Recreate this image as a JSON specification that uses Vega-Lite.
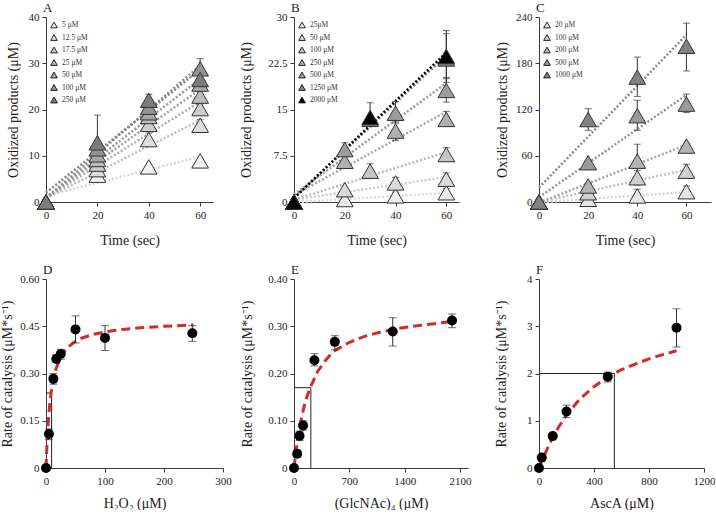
{
  "$schema": "https://vega.github.io/schema/vega-lite/v6.json",
  "padding": {"left": 0, "top": 2, "right": 0, "bottom": 0},
  "background": "white",
  "config": {
    "view": {"stroke": null},
    "font": "Liberation Serif",
    "axis": {"grid": false, "domainColor": "#3a3a3a", "tickColor": "#3a3a3a", "tickSize": 4, "labelFont": "Liberation Serif", "labelFontSize": 11, "labelColor": "#222", "titleFont": "Liberation Serif", "titleFontSize": 14, "titleFontWeight": "normal", "titleColor": "#222", "labelFlush": false, "labelPadding": 3},
    "axisX": {"titlePadding": 13},
    "axisY": {"titlePadding": 10},
    "legend": {"orient": "top-left", "offset": 4, "symbolType": "triangle-up", "symbolSize": 45, "symbolStrokeColor": "#222", "symbolStrokeWidth": 1, "labelFont": "Liberation Serif", "labelFontSize": 7.5, "labelColor": "#333", "rowPadding": 2.5, "padding": 0},
    "title": {"anchor": "start", "frame": "group", "font": "Liberation Serif", "fontSize": 13, "fontWeight": "normal", "offset": -4, "dx": -3, "color": "#222"}
  },
  "datasets": {
    "A": [
      {"s": "5 μM", "t": 0, "y": 0}, {"s": "5 μM", "t": 20, "y": 5.8}, {"s": "5 μM", "t": 40, "y": 7.6}, {"s": "5 μM", "t": 60, "y": 8.9},
      {"s": "12.5 μM", "t": 0, "y": 0}, {"s": "12.5 μM", "t": 20, "y": 7.0}, {"s": "12.5 μM", "t": 40, "y": 13.5, "lo": 12.2, "hi": 14.9}, {"s": "12.5 μM", "t": 60, "y": 16.6, "lo": 15.4, "hi": 17.8},
      {"s": "17.5 μM", "t": 0, "y": 0}, {"s": "17.5 μM", "t": 20, "y": 8.2}, {"s": "17.5 μM", "t": 40, "y": 16.8}, {"s": "17.5 μM", "t": 60, "y": 20.2, "lo": 19.2, "hi": 21.2},
      {"s": "25 μM", "t": 0, "y": 0}, {"s": "25 μM", "t": 20, "y": 9.2}, {"s": "25 μM", "t": 40, "y": 18.5}, {"s": "25 μM", "t": 60, "y": 22.9},
      {"s": "50 μM", "t": 0, "y": 0}, {"s": "50 μM", "t": 20, "y": 10.2}, {"s": "50 μM", "t": 40, "y": 19.3}, {"s": "50 μM", "t": 60, "y": 25.5, "lo": 24.5, "hi": 26.5},
      {"s": "100 μM", "t": 0, "y": 0}, {"s": "100 μM", "t": 20, "y": 11.5}, {"s": "100 μM", "t": 40, "y": 20.5}, {"s": "100 μM", "t": 60, "y": 28.8, "lo": 27.5, "hi": 31.0},
      {"s": "250 μM", "t": 0, "y": 0}, {"s": "250 μM", "t": 20, "y": 12.8, "lo": 6.8, "hi": 18.8}, {"s": "250 μM", "t": 40, "y": 22.0, "lo": 20.7, "hi": 23.3}, {"s": "250 μM", "t": 60, "y": 26.5, "lo": 25.0, "hi": 28.0}
    ],
    "B": [
      {"s": "25μM", "t": 0, "y": 0}, {"s": "25μM", "t": 20, "y": 0.4}, {"s": "25μM", "t": 40, "y": 1.0, "lo": 0.4, "hi": 1.6}, {"s": "25μM", "t": 60, "y": 1.5, "lo": 0.8, "hi": 2.2},
      {"s": "50 μM", "t": 0, "y": 0}, {"s": "50 μM", "t": 20, "y": 2.0}, {"s": "50 μM", "t": 40, "y": 3.1, "lo": 2.2, "hi": 4.0}, {"s": "50 μM", "t": 60, "y": 3.7, "lo": 2.7, "hi": 4.7},
      {"s": "100 μM", "t": 0, "y": 0}, {"s": "100 μM", "t": 30, "y": 5.0, "lo": 3.8, "hi": 6.2}, {"s": "100 μM", "t": 60, "y": 7.7, "lo": 7.0, "hi": 8.8},
      {"s": "250 μM", "t": 0, "y": 0}, {"s": "250 μM", "t": 20, "y": 6.6}, {"s": "250 μM", "t": 40, "y": 11.5, "lo": 10.0, "hi": 13.0}, {"s": "250 μM", "t": 60, "y": 13.4, "lo": 12.3, "hi": 14.7},
      {"s": "500 μM", "t": 0, "y": 0}, {"s": "500 μM", "t": 20, "y": 8.5, "lo": 7.6, "hi": 9.6}, {"s": "500 μM", "t": 40, "y": 14.4, "lo": 12.8, "hi": 16.3}, {"s": "500 μM", "t": 60, "y": 18.1, "lo": 16.2, "hi": 20.0},
      {"s": "1250 μM", "t": 0, "y": 0}, {"s": "1250 μM", "t": 30, "y": 13.4}, {"s": "1250 μM", "t": 60, "y": 23.2, "lo": 19.4, "hi": 27.3},
      {"s": "2000 μM", "t": 0, "y": 0}, {"s": "2000 μM", "t": 30, "y": 13.7, "lo": 12.3, "hi": 16.1}, {"s": "2000 μM", "t": 60, "y": 23.6, "lo": 20.2, "hi": 27.8}
    ],
    "C": [
      {"s": "20 μM", "t": 0, "y": 0}, {"s": "20 μM", "t": 20, "y": 3.5}, {"s": "20 μM", "t": 40, "y": 7.8, "lo": 0, "hi": 16.5}, {"s": "20 μM", "t": 60, "y": 13.4, "lo": 6, "hi": 20.8},
      {"s": "100 μM", "t": 0, "y": 0}, {"s": "100 μM", "t": 20, "y": 12, "lo": 10.5, "hi": 14}, {"s": "100 μM", "t": 40, "y": 31.5, "lo": 22, "hi": 41}, {"s": "100 μM", "t": 60, "y": 40, "lo": 31, "hi": 49},
      {"s": "200 μM", "t": 0, "y": 0}, {"s": "200 μM", "t": 20, "y": 20.8, "lo": 18, "hi": 24}, {"s": "200 μM", "t": 40, "y": 53, "lo": 31, "hi": 75}, {"s": "200 μM", "t": 60, "y": 72.6, "lo": 70, "hi": 76},
      {"s": "500 μM", "t": 0, "y": 0}, {"s": "500 μM", "t": 20, "y": 51, "lo": 48, "hi": 54}, {"s": "500 μM", "t": 40, "y": 112, "lo": 93, "hi": 132}, {"s": "500 μM", "t": 60, "y": 127, "lo": 116, "hi": 140},
      {"s": "1000 μM", "t": 0, "y": 0}, {"s": "1000 μM", "t": 20, "y": 107, "lo": 93, "hi": 121}, {"s": "1000 μM", "t": 40, "y": 162, "lo": 137, "hi": 188}, {"s": "1000 μM", "t": 60, "y": 202, "lo": 170, "hi": 232}
    ],
    "D": [
      {"x": 0, "y": 0}, {"x": 5, "y": 0.108, "lo": 0.09, "hi": 0.124}, {"x": 12.5, "y": 0.283, "lo": 0.266, "hi": 0.3}, {"x": 17.5, "y": 0.346, "lo": 0.335, "hi": 0.36}, {"x": 25, "y": 0.362, "lo": 0.345, "hi": 0.377}, {"x": 50, "y": 0.44, "lo": 0.397, "hi": 0.483}, {"x": 100, "y": 0.413, "lo": 0.373, "hi": 0.452}, {"x": 248, "y": 0.428, "lo": 0.402, "hi": 0.452}
    ],
    "Dfit": [
      {"x": 0, "y": 0}, {"x": 2, "y": 0.09}, {"x": 4, "y": 0.15}, {"x": 6, "y": 0.195}, {"x": 8.5, "y": 0.237}, {"x": 12, "y": 0.275}, {"x": 16, "y": 0.31}, {"x": 20, "y": 0.33}, {"x": 25, "y": 0.352}, {"x": 30, "y": 0.368}, {"x": 40, "y": 0.388}, {"x": 50, "y": 0.402}, {"x": 60, "y": 0.412}, {"x": 80, "y": 0.424}, {"x": 100, "y": 0.432}, {"x": 130, "y": 0.44}, {"x": 160, "y": 0.445}, {"x": 200, "y": 0.45}, {"x": 250, "y": 0.454}
    ],
    "Dkm": [{"x": 0, "y": 0.238, "o": 1}, {"x": 9.5, "y": 0.238, "o": 2}, {"x": 9.5, "y": 0, "o": 3}],
    "E": [
      {"x": 0, "y": 0}, {"x": 40, "y": 0.03, "lo": 0.022, "hi": 0.038}, {"x": 70, "y": 0.068, "lo": 0.058, "hi": 0.078}, {"x": 115, "y": 0.09, "lo": 0.08, "hi": 0.1}, {"x": 258, "y": 0.228, "lo": 0.216, "hi": 0.242}, {"x": 516, "y": 0.267, "lo": 0.25, "hi": 0.28}, {"x": 1248, "y": 0.289, "lo": 0.258, "hi": 0.318}, {"x": 1998, "y": 0.312, "lo": 0.297, "hi": 0.326}
    ],
    "Efit": [
      {"x": 0, "y": 0}, {"x": 25, "y": 0.035}, {"x": 50, "y": 0.066}, {"x": 100, "y": 0.11}, {"x": 150, "y": 0.145}, {"x": 210, "y": 0.172}, {"x": 300, "y": 0.205}, {"x": 400, "y": 0.228}, {"x": 500, "y": 0.247}, {"x": 700, "y": 0.266}, {"x": 900, "y": 0.279}, {"x": 1100, "y": 0.288}, {"x": 1300, "y": 0.295}, {"x": 1500, "y": 0.3}, {"x": 1750, "y": 0.305}, {"x": 2000, "y": 0.31}
    ],
    "Ekm": [{"x": 0, "y": 0.17, "o": 1}, {"x": 213, "y": 0.17, "o": 2}, {"x": 213, "y": 0, "o": 3}],
    "F": [
      {"x": 0, "y": 0}, {"x": 20, "y": 0.22, "lo": 0.2, "hi": 0.24}, {"x": 100, "y": 0.675, "lo": 0.64, "hi": 0.71}, {"x": 200, "y": 1.195, "lo": 1.07, "hi": 1.33}, {"x": 500, "y": 1.93, "lo": 1.82, "hi": 2.03}, {"x": 1000, "y": 2.97, "lo": 2.56, "hi": 3.37}
    ],
    "Ffit": [
      {"x": 0, "y": 0}, {"x": 50, "y": 0.34}, {"x": 100, "y": 0.65}, {"x": 150, "y": 0.9}, {"x": 200, "y": 1.12}, {"x": 300, "y": 1.47}, {"x": 400, "y": 1.72}, {"x": 500, "y": 1.93}, {"x": 600, "y": 2.08}, {"x": 700, "y": 2.2}, {"x": 800, "y": 2.31}, {"x": 900, "y": 2.4}, {"x": 1000, "y": 2.48}
    ],
    "Fkm": [{"x": 0, "y": 2.0, "o": 1}, {"x": 548, "y": 2.0, "o": 2}, {"x": 548, "y": 0, "o": 3}]
  },
  "columns": 3,
  "spacing": {"row": 77, "column": 71},
  "bounds": "flush",
  "resolve": {"scale": {"fill": "independent", "stroke": "independent", "x": "independent", "y": "independent"}, "legend": {"fill": "independent"}, "axis": {"x": "independent", "y": "independent"}},
  "concat": [
    {
      "title": "A", "width": 167, "height": 185, "data": {"name": "A"},
      "layer": [
        {"transform": [{"regression": "y", "on": "t", "groupby": ["s"], "extent": [0, 60]}],
         "mark": {"type": "line", "strokeDash": [2, 2], "strokeWidth": 2.5},
         "encoding": {
           "x": {"field": "t", "type": "quantitative", "title": "Time (sec)", "scale": {"domain": [0, 64]}, "axis": {"values": [0, 20, 40, 60]}},
           "y": {"field": "y", "type": "quantitative", "title": "Oxidized products (μM)", "scale": {"domain": [0, 40]}, "axis": {"values": [0, 10, 20, 30, 40], "titlePadding": 8}},
           "stroke": {"field": "s", "type": "nominal", "scale": {"domain": ["250 μM", "100 μM", "50 μM", "25 μM", "17.5 μM", "12.5 μM", "5 μM"], "range": ["#858585", "#8e8e8e", "#989898", "#a2a2a2", "#adadad", "#bdbdbd", "#d8d8d8"]}, "legend": null}}},
        {"transform": [{"filter": "isValid(datum.hi)"}],
         "mark": {"type": "errorbar", "ticks": true, "size": 7, "thickness": 1, "color": "#333"},
         "encoding": {"x": {"field": "t", "type": "quantitative", "title": "Time (sec)"}, "y": {"field": "lo", "type": "quantitative", "title": "Oxidized products (μM)"}, "y2": {"field": "hi"}}},
        {"mark": {"type": "point", "shape": "triangle-up", "filled": true, "size": 280, "stroke": "#333", "strokeWidth": 1, "opacity": 1},
         "encoding": {
           "x": {"field": "t", "type": "quantitative", "title": "Time (sec)"},
           "y": {"field": "y", "type": "quantitative", "title": "Oxidized products (μM)"},
           "fill": {"field": "s", "type": "nominal", "scale": {"domain": ["5 μM", "12.5 μM", "17.5 μM", "25 μM", "50 μM", "100 μM", "250 μM"], "range": ["#f2f2f2", "#dedede", "#cdcdcd", "#bcbcbc", "#a8a8a8", "#939393", "#7c7c7c"]}, "legend": {"title": null, "orient": "top-left"}}}}
      ]
    },
    {
      "title": "B", "width": 165, "height": 185, "data": {"name": "B"},
      "layer": [
        {"transform": [{"regression": "y", "on": "t", "groupby": ["s"], "extent": [0, 60]}],
         "mark": {"type": "line", "strokeDash": [2, 2], "strokeWidth": 2.5},
         "encoding": {
           "x": {"field": "t", "type": "quantitative", "title": "Time (sec)", "scale": {"domain": [0, 63.9]}, "axis": {"values": [0, 20, 40, 60]}},
           "y": {"field": "y", "type": "quantitative", "title": "Oxidized products (μM)", "scale": {"domain": [0, 30]}, "axis": {"values": [0, 7.5, 15, 22.5, 30], "labelExpr": "'' + datum.value", "titlePadding": 14}},
           "stroke": {"field": "s", "type": "nominal", "scale": {"domain": ["2000 μM", "1250 μM", "500 μM", "250 μM", "100 μM", "50 μM", "25μM"], "range": ["#000000", "#8a8a8a", "#9a9a9a", "#a6a6a6", "#bbbbbb", "#cccccc", "#dcdcdc"]}, "legend": null}}},
        {"transform": [{"filter": "isValid(datum.hi)"}],
         "mark": {"type": "errorbar", "ticks": true, "size": 7, "thickness": 1, "color": "#333"},
         "encoding": {"x": {"field": "t", "type": "quantitative", "title": "Time (sec)"}, "y": {"field": "lo", "type": "quantitative", "title": "Oxidized products (μM)"}, "y2": {"field": "hi"}}},
        {"mark": {"type": "point", "shape": "triangle-up", "filled": true, "size": 280, "stroke": "#333", "strokeWidth": 1, "opacity": 1},
         "encoding": {
           "x": {"field": "t", "type": "quantitative", "title": "Time (sec)"},
           "y": {"field": "y", "type": "quantitative", "title": "Oxidized products (μM)"},
           "fill": {"field": "s", "type": "nominal", "scale": {"domain": ["25μM", "50 μM", "100 μM", "250 μM", "500 μM", "1250 μM", "2000 μM"], "range": ["#ececec", "#dadada", "#c6c6c6", "#b0b0b0", "#9c9c9c", "#868686", "#000000"]}, "legend": {"title": null, "orient": "top-left"}}}}
      ]
    },
    {
      "title": "C", "width": 172, "height": 185, "data": {"name": "C"},
      "layer": [
        {"transform": [{"regression": "y", "on": "t", "groupby": ["s"], "extent": [0, 60]}],
         "mark": {"type": "line", "strokeDash": [2, 2], "strokeWidth": 2.5},
         "encoding": {
           "x": {"field": "t", "type": "quantitative", "title": "Time (sec)", "scale": {"domain": [0, 66.6]}, "axis": {"values": [0, 20, 40, 60]}},
           "y": {"field": "y", "type": "quantitative", "title": "Oxidized products (μM)", "scale": {"domain": [0, 240]}, "axis": {"values": [0, 60, 120, 180, 240], "titlePadding": 6}},
           "stroke": {"field": "s", "type": "nominal", "scale": {"domain": ["1000 μM", "500 μM", "200 μM", "100 μM", "20 μM"], "range": ["#8a8a8a", "#969696", "#a6a6a6", "#c0c0c0", "#d6d6d6"]}, "legend": null}}},
        {"transform": [{"filter": "isValid(datum.hi)"}],
         "mark": {"type": "errorbar", "ticks": true, "size": 7, "thickness": 1, "color": "#333"},
         "encoding": {"x": {"field": "t", "type": "quantitative", "title": "Time (sec)"}, "y": {"field": "lo", "type": "quantitative", "title": "Oxidized products (μM)"}, "y2": {"field": "hi"}}},
        {"mark": {"type": "point", "shape": "triangle-up", "filled": true, "size": 280, "stroke": "#333", "strokeWidth": 1, "opacity": 1},
         "encoding": {
           "x": {"field": "t", "type": "quantitative", "title": "Time (sec)"},
           "y": {"field": "y", "type": "quantitative", "title": "Oxidized products (μM)"},
           "fill": {"field": "s", "type": "nominal", "scale": {"domain": ["20 μM", "100 μM", "200 μM", "500 μM", "1000 μM"], "range": ["#e6e6e6", "#cfcfcf", "#b3b3b3", "#9b9b9b", "#828282"]}, "legend": {"title": null, "orient": "top-left"}}}}
      ]
    },
    {
      "title": "D", "width": 177, "height": 189,
      "layer": [
        {"data": {"name": "Dkm"}, "mark": {"type": "line", "color": "#222", "strokeWidth": 1},
         "encoding": {
           "x": {"field": "x", "type": "quantitative", "title": "H₂O₂ (μM)", "scale": {"domain": [0, 300]}, "axis": {"values": [0, 100, 200, 300], "titlePadding": 10}},
           "y": {"field": "y", "type": "quantitative", "title": "Rate of catalysis (μM*s⁻¹)", "scale": {"domain": [0, 0.6]}, "axis": {"values": [0, 0.15, 0.3, 0.45, 0.6], "format": ".2f", "labelExpr": "datum.value == 0 ? '0' : datum.label", "titlePadding": 5}},
           "order": {"field": "o", "type": "quantitative"}}},
        {"data": {"name": "Dfit"}, "mark": {"type": "line", "color": "#d42a2a", "strokeWidth": 3, "strokeDash": [9, 5]},
         "encoding": {"x": {"field": "x", "type": "quantitative", "title": "H₂O₂ (μM)"}, "y": {"field": "y", "type": "quantitative", "title": "Rate of catalysis (μM*s⁻¹)"}}},
        {"data": {"name": "D"}, "transform": [{"filter": "isValid(datum.hi)"}],
         "mark": {"type": "errorbar", "ticks": true, "size": 8, "thickness": 1, "color": "#333"},
         "encoding": {"x": {"field": "x", "type": "quantitative", "title": "H₂O₂ (μM)"}, "y": {"field": "lo", "type": "quantitative", "title": "Rate of catalysis (μM*s⁻¹)"}, "y2": {"field": "hi"}}},
        {"data": {"name": "D"}, "mark": {"type": "circle", "size": 100, "color": "#000", "opacity": 1},
         "encoding": {"x": {"field": "x", "type": "quantitative", "title": "H₂O₂ (μM)"}, "y": {"field": "y", "type": "quantitative", "title": "Rate of catalysis (μM*s⁻¹)"}}}
      ]
    },
    {
      "title": "E", "width": 174, "height": 189,
      "layer": [
        {"data": {"name": "Ekm"}, "mark": {"type": "line", "color": "#222", "strokeWidth": 1},
         "encoding": {
           "x": {"field": "x", "type": "quantitative", "title": "(GlcNAc)₄ (μM)", "scale": {"domain": [0, 2100]}, "axis": {"values": [0, 700, 1400, 2100], "format": "d", "titlePadding": 10}},
           "y": {"field": "y", "type": "quantitative", "title": "Rate of catalysis (μM*s⁻¹)", "scale": {"domain": [0, 0.4]}, "axis": {"values": [0, 0.1, 0.2, 0.3, 0.4], "format": ".2f", "labelExpr": "datum.value == 0 ? '0' : datum.label", "titlePadding": 13}},
           "order": {"field": "o", "type": "quantitative"}}},
        {"data": {"name": "Efit"}, "mark": {"type": "line", "color": "#d42a2a", "strokeWidth": 3, "strokeDash": [9, 5]},
         "encoding": {"x": {"field": "x", "type": "quantitative", "title": "(GlcNAc)₄ (μM)"}, "y": {"field": "y", "type": "quantitative", "title": "Rate of catalysis (μM*s⁻¹)"}}},
        {"data": {"name": "E"}, "transform": [{"filter": "isValid(datum.hi)"}],
         "mark": {"type": "errorbar", "ticks": true, "size": 8, "thickness": 1, "color": "#333"},
         "encoding": {"x": {"field": "x", "type": "quantitative", "title": "(GlcNAc)₄ (μM)"}, "y": {"field": "lo", "type": "quantitative", "title": "Rate of catalysis (μM*s⁻¹)"}, "y2": {"field": "hi"}}},
        {"data": {"name": "E"}, "mark": {"type": "circle", "size": 100, "color": "#000", "opacity": 1},
         "encoding": {"x": {"field": "x", "type": "quantitative", "title": "(GlcNAc)₄ (μM)"}, "y": {"field": "y", "type": "quantitative", "title": "Rate of catalysis (μM*s⁻¹)"}}}
      ]
    },
    {
      "title": "F", "width": 165, "height": 189,
      "layer": [
        {"data": {"name": "Fkm"}, "mark": {"type": "line", "color": "#222", "strokeWidth": 1},
         "encoding": {
           "x": {"field": "x", "type": "quantitative", "title": "AscA (μM)", "scale": {"domain": [0, 1200]}, "axis": {"values": [0, 400, 800, 1200], "format": "d", "titlePadding": 10}},
           "y": {"field": "y", "type": "quantitative", "title": "Rate of catalysis (μM*s⁻¹)", "scale": {"domain": [0, 4]}, "axis": {"values": [0, 1, 2, 3, 4], "titlePadding": 18}},
           "order": {"field": "o", "type": "quantitative"}}},
        {"data": {"name": "Ffit"}, "mark": {"type": "line", "color": "#d42a2a", "strokeWidth": 3, "strokeDash": [9, 5]},
         "encoding": {"x": {"field": "x", "type": "quantitative", "title": "AscA (μM)"}, "y": {"field": "y", "type": "quantitative", "title": "Rate of catalysis (μM*s⁻¹)"}}},
        {"data": {"name": "F"}, "transform": [{"filter": "isValid(datum.hi)"}],
         "mark": {"type": "errorbar", "ticks": true, "size": 8, "thickness": 1, "color": "#333"},
         "encoding": {"x": {"field": "x", "type": "quantitative", "title": "AscA (μM)"}, "y": {"field": "lo", "type": "quantitative", "title": "Rate of catalysis (μM*s⁻¹)"}, "y2": {"field": "hi"}}},
        {"data": {"name": "F"}, "mark": {"type": "circle", "size": 100, "color": "#000", "opacity": 1},
         "encoding": {"x": {"field": "x", "type": "quantitative", "title": "AscA (μM)"}, "y": {"field": "y", "type": "quantitative", "title": "Rate of catalysis (μM*s⁻¹)"}}}
      ]
    }
  ]
}
